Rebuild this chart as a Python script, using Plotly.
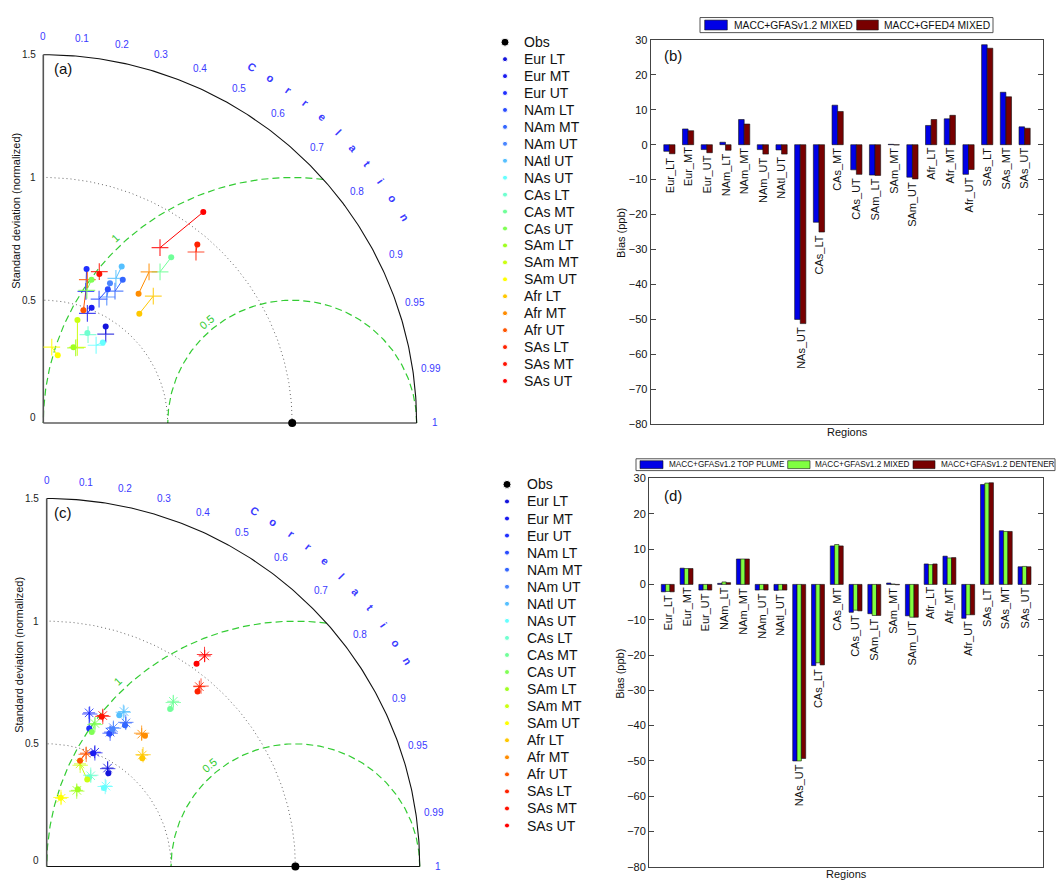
import numpy as np
import plotly.graph_objects as go

W, H = 1056, 884
FONT = "Liberation Sans, Arial, Helvetica, sans-serif"

# ---------------------------------------------------------------- data
regions = ["Eur LT", "Eur MT", "Eur UT", "NAm LT", "NAm MT", "NAm UT", "NAtl UT",
           "NAs UT", "CAs LT", "CAs MT", "CAs UT", "SAm LT", "SAm MT", "SAm UT",
           "Afr LT", "Afr MT", "Afr UT", "SAs LT", "SAs MT", "SAs UT"]
region_colors = ["#1414dc", "#1a1af0", "#2030ff", "#2a4cff", "#3366ff", "#4a86ff",
                 "#55c0ff", "#66ffff", "#70ffd0", "#70ff99", "#80ff55", "#a0ff20",
                 "#ccff10", "#ffff00", "#ffc800", "#ff8c00", "#ff5500", "#ff2200",
                 "#ff1100", "#ff0000"]

# Panel (a): normalized standard deviation and correlation
std_gfas_mixed_a = [0.466, 0.508, 0.651, 0.603, 0.665, 0.629, 0.711, 0.406, 0.407, 0.848,
                    0.615, 0.331, 0.441, 0.282, 0.589, 0.651, 0.487, 0.955, 0.647, 1.073]
cor_gfas_mixed_a = [0.538, 0.382, 0.267, 0.430, 0.480, 0.426, 0.443, 0.589, 0.435, 0.606,
                    0.315, 0.366, 0.311, 0.206, 0.655, 0.588, 0.331, 0.648, 0.348, 0.599]
std_gfed4_mixed_a = [0.440, 0.480, 0.563, 0.552, 0.609, 0.573, 0.657, 0.381, 0.402, 0.774,
                     0.568, 0.332, 0.337, 0.311, 0.680, 0.748, 0.610, 0.928, 0.656, 0.854]
cor_gfed4_mixed_a = [0.570, 0.369, 0.304, 0.406, 0.473, 0.445, 0.444, 0.557, 0.447, 0.606,
                     0.308, 0.391, 0.406, 0.109, 0.650, 0.568, 0.290, 0.661, 0.343, 0.549]

# Panel (c): injection-height experiments
std_top_c = [0.454, 0.498, 0.588, 0.597, 0.656, 0.619, 0.682, 0.394, 0.402, 0.811,
             0.577, 0.339, 0.390, 0.286, 0.585, 0.663, 0.451, 0.936, 0.649, 1.023]
cor_top_c = [0.546, 0.375, 0.291, 0.422, 0.480, 0.428, 0.428, 0.584, 0.425, 0.612,
             0.314, 0.369, 0.418, 0.196, 0.657, 0.596, 0.297, 0.648, 0.341, 0.589]
std_mixed_c = [0.470, 0.504, 0.649, 0.604, 0.666, 0.626, 0.704, 0.405, 0.410, 0.844,
               0.614, 0.333, 0.439, 0.284, 0.595, 0.661, 0.488, 0.956, 0.655, 1.068]
cor_mixed_c = [0.521, 0.383, 0.263, 0.422, 0.478, 0.428, 0.442, 0.588, 0.432, 0.603,
               0.316, 0.364, 0.305, 0.204, 0.646, 0.578, 0.324, 0.642, 0.344, 0.595]
std_dentener_c = [0.468, 0.502, 0.645, 0.600, 0.668, 0.624, 0.700, 0.402, 0.412, 0.840,
                  0.610, 0.330, 0.434, 0.287, 0.598, 0.664, 0.484, 0.962, 0.652, 1.072]
cor_dentener_c = [0.524, 0.386, 0.268, 0.425, 0.476, 0.430, 0.440, 0.585, 0.430, 0.606,
                  0.318, 0.366, 0.310, 0.200, 0.648, 0.575, 0.328, 0.645, 0.346, 0.592]

corr_ticks = [0, 0.1, 0.2, 0.3, 0.4, 0.5, 0.6, 0.7, 0.8, 0.9, 0.95, 0.99, 1]
corr_tick_text = ["0", "0.1", "0.2", "0.3", "0.4", "0.5", "0.6", "0.7", "0.8", "0.9",
                  "0.95", "0.99", "1"]
std_ticks = [0, 0.5, 1, 1.5]
std_tick_text = ["0", "0.5", "1", "1.5"]

# Bias bar charts (ppb)
bar_labels = ["Eur_LT", "Eur_MT", "Eur_UT", "NAm_LT", "NAm_MT", "NAm_UT", "NAtl_UT",
              "NAs_UT", "CAs_LT", "CAs_MT", "CAs_UT", "SAm_LT", "SAm_MT", "SAm_UT",
              "Afr_LT", "Afr_MT", "Afr_UT", "SAs_LT", "SAs_MT", "SAs_UT"]
bias_gfas_mixed_b = [-1.9, 4.5, -1.4, 0.7, 7.2, -1.4, -1.5, -50.0, -22.2, 11.3,
                     -7.2, -8.7, 0.1, -9.3, 5.5, 7.4, -8.5, 28.6, 15.0, 5.1]
bias_gfed4_mixed_b = [-2.6, 4.0, -2.3, -1.6, 5.9, -2.7, -2.7, -51.2, -25.0, 9.5,
                      -8.5, -8.8, -0.1, -9.8, 7.2, 8.4, -7.1, 27.6, 13.7, 4.7]
bias_top_d = [-2.1, 4.6, -1.6, 0.3, 7.2, -1.6, -1.7, -50.0, -23.0, 10.9,
              -7.9, -8.3, 0.4, -8.9, 5.8, 8.0, -9.6, 28.3, 15.2, 5.0]
bias_mixed_d = [-2.0, 4.5, -1.5, 0.7, 7.2, -1.5, -1.6, -50.0, -22.2, 11.3,
                -7.3, -8.8, 0.1, -9.3, 5.6, 7.5, -8.6, 28.7, 15.0, 5.1]
bias_dentener_d = [-2.1, 4.5, -1.6, 0.5, 7.2, -1.6, -1.6, -49.3, -22.8, 10.9,
                   -7.5, -8.8, -0.1, -9.3, 5.8, 7.6, -8.6, 28.8, 15.0, 5.0]

# ---------------------------------------------------------------- helpers
BLUE_TXT = "#3a3aff"
GREEN = "#33cc33"


def paper_x(p):
    return p / W


def paper_y(p):
    return 1 - p / H


def taylor_xy(std, cor):
    s = np.asarray(std, dtype=float)
    c = np.asarray(cor, dtype=float)
    return s * c, s * np.sqrt(1 - c ** 2)


def paper_text(txt, x, y, size, xanchor="center", yanchor="middle", angle=0, color="#111"):
    annotations.append(dict(x=paper_x(x), y=paper_y(y), xref="paper", yref="paper",
                            text=txt, showarrow=False, xanchor=xanchor, yanchor=yanchor,
                            textangle=angle, font=dict(size=size, color=color, family=FONT)))


fig = go.Figure()
annotations = []
shapes = []
layout_axes = {}


def add_taylor(xa, ya, ox, oy, k, box, label):
    l, t, r, b = box
    xname = "xaxis" + xa[1:]
    yname = "yaxis" + ya[1:]
    layout_axes[xname] = dict(domain=[l / W, r / W], range=[(l - ox) / k, (r - ox) / k],
                              visible=False, anchor=ya, fixedrange=True)
    layout_axes[yname] = dict(domain=[1 - b / H, 1 - t / H], range=[(oy - b) / k, (oy - t) / k],
                              visible=False, anchor=xa, fixedrange=True)

    def line(x, y, color, width, dash=None):
        fig.add_trace(go.Scatter(x=x, y=y, mode="lines", xaxis=xa, yaxis=ya,
                                 line=dict(color=color, width=width, dash=dash),
                                 hoverinfo="skip"))

    def text(txt, x, y, size, color, angle=0, xanchor="center", yanchor="middle"):
        annotations.append(dict(x=x, y=y, xref=xa, yref=ya, text=txt, showarrow=False,
                                textangle=angle, xanchor=xanchor, yanchor=yanchor,
                                font=dict(size=size, color=color, family=FONT)))

    th = np.linspace(0, np.pi / 2, 200)
    # standard deviation reference arcs
    for rad in [0.5, 1.0]:
        line(rad * np.cos(th), rad * np.sin(th), "#666666", 1, "1px,3px")
    # centred RMS difference arcs around the observation point
    th5 = np.linspace(0, np.pi, 200)
    line(1 + 0.5 * np.cos(th5), 0.5 * np.sin(th5), GREEN, 1.2, "7px,4px")
    th_start = np.arctan2(np.sqrt(1.5 ** 2 - 1.125 ** 2), 0.125)
    th1 = np.linspace(th_start, np.pi, 200)
    line(1 + np.cos(th1), np.sin(th1), GREEN, 1.2, "7px,4px")
    # frame
    line(1.5 * np.cos(th), 1.5 * np.sin(th), "#111111", 1.1)
    line([0, 1.5], [0, 0], "#111111", 1.1)
    line([0, 0], [0, 1.5], "#555555", 1.6)

    # correlation tick labels
    for c, txt in zip(corr_ticks, corr_tick_text):
        rr = 1.573
        text(txt, rr * c, rr * np.sqrt(1 - c ** 2), 10, BLUE_TXT)
    # "Correlation" written along the arc
    for i, ch in enumerate("Correlation"):
        ang = 60 - 3 * i
        rad = np.deg2rad(ang)
        text("<b>%s</b>" % ch, 1.675 * np.cos(rad), 1.675 * np.sin(rad), 11, BLUE_TXT,
             angle=90 - ang)
    # std tick labels
    for v, txt in zip(std_ticks, std_tick_text):
        text(txt, -0.022, v + (0.024 if v == 0 else 0), 10, "#222", xanchor="right")
    text("Standard deviation (normalized)", -0.111, 0.863, 11, "#111", angle=-90)
    # RMS arc labels
    text("1", 0.288, 0.754, 11, GREEN, angle=-43)
    text("0.5", 0.656, 0.412, 11, GREEN, angle=-40)
    text(label, (51.5 - ox) / k, 1.442, 15, "#111", xanchor="left")


add_taylor("x", "y", 43.3, 422.7, 248.9, (0, 14, 452, 442), "(a)")
add_taylor("x3", "y3", 46.7, 872.3, 248.7, (0, 460, 452, 884), "(c)")

# ---- Taylor panel (a) points
xg, yg = taylor_xy(std_gfas_mixed_a, cor_gfas_mixed_a)
xe, ye = taylor_xy(std_gfed4_mixed_a, cor_gfed4_mixed_a)
for i in range(len(regions)):
    fig.add_trace(go.Scatter(x=[xg[i], xe[i]], y=[yg[i], ye[i]], mode="lines",
                             xaxis="x", yaxis="y", hoverinfo="skip",
                             line=dict(color=region_colors[i], width=1)))
fig.add_trace(go.Scatter(x=xe, y=ye, mode="markers", xaxis="x", yaxis="y",
                         marker=dict(symbol="cross-thin-open", size=12, color=region_colors,
                                     opacity=0.8, line=dict(width=1.2, color=region_colors))))
fig.add_trace(go.Scatter(x=xg, y=yg, mode="markers", xaxis="x", yaxis="y",
                         marker=dict(symbol="circle", size=6, opacity=1, color=region_colors)))

# ---- Taylor panel (c) points
xt, yt = taylor_xy(std_top_c, cor_top_c)
xm, ym = taylor_xy(std_mixed_c, cor_mixed_c)
xd, yd = taylor_xy(std_dentener_c, cor_dentener_c)
for i in range(len(regions)):
    fig.add_trace(go.Scatter(x=[xt[i], xm[i], xd[i]], y=[yt[i], ym[i], yd[i]], mode="lines",
                             xaxis="x3", yaxis="y3", hoverinfo="skip",
                             line=dict(color=region_colors[i], width=1)))
fig.add_trace(go.Scatter(x=xd, y=yd, mode="markers", xaxis="x3", yaxis="y3",
                         marker=dict(symbol="cross-thin-open", size=11, color=region_colors,
                                     opacity=0.75, line=dict(width=1.0, color=region_colors))))
fig.add_trace(go.Scatter(x=xm, y=ym, mode="markers", xaxis="x3", yaxis="y3",
                         marker=dict(symbol="asterisk-open", size=10, color=region_colors,
                                     opacity=0.85, line=dict(width=1.0, color=region_colors))))
fig.add_trace(go.Scatter(x=xt, y=yt, mode="markers", xaxis="x3", yaxis="y3",
                         marker=dict(symbol="circle", size=6, opacity=1, color=region_colors)))

# observation point
for xa, ya in [("x", "y"), ("x3", "y3")]:
    fig.add_trace(go.Scatter(x=[1], y=[0], mode="markers", xaxis=xa, yaxis=ya, cliponaxis=False,
                             marker=dict(symbol="circle", size=8, opacity=1, color="black")))

# ---- Legends for the Taylor panels (pixel-space overlay axis)
layout_axes["xaxis5"] = dict(domain=[0, 1], range=[0, W], visible=False, anchor="y5",
                             fixedrange=True)
layout_axes["yaxis5"] = dict(domain=[0, 1], range=[H, 0], visible=False, anchor="x5",
                             fixedrange=True)
legend_names = ["Obs"] + regions
legend_colors = ["black"] + region_colors
for mx, tx, y0, dy in [(505, 522, 36.7, 17.17), (507, 525, 485.0, 17.29)]:
    ys = [y0 + j * dy for j in range(len(legend_names))]
    fig.add_trace(go.Scatter(x=[mx] * len(ys), y=ys, mode="markers", xaxis="x5", yaxis="y5",
                             marker=dict(size=[8] + [5] * len(regions), opacity=1,
                                         color=legend_colors)))
    for name, yy in zip(legend_names, ys):
        paper_text(name, tx, yy, 14, xanchor="left")

# ---------------------------------------------------------------- bar charts
xpos = list(range(1, len(bar_labels) + 1))


def bar_axes(xa, ya, box):
    l, t, r, b = box
    xname = "xaxis" + xa[1:]
    yname = "yaxis" + ya[1:]
    layout_axes[xname] = dict(domain=[l / W, r / W], range=[0, 21], anchor=ya,
                              showline=True, mirror=True, linecolor="#444", linewidth=1,
                              ticks="", showticklabels=False, showgrid=False,
                              zeroline=False, fixedrange=True)
    layout_axes[yname] = dict(domain=[1 - b / H, 1 - t / H], range=[-80, 30], anchor=xa,
                              tickvals=list(range(-80, 31, 10)), ticks="inside", ticklen=5,
                              tickcolor="#444", mirror="ticks", showline=True,
                              linecolor="#444", linewidth=1, showgrid=False, zeroline=False,
                              tickfont=dict(size=11, color="#111", family=FONT),
                              fixedrange=True)


bar_axes("x2", "y2", (650.7, 34.3, 1043.3, 424.0))
bar_axes("x4", "y4", (649.0, 479.0, 1043.3, 872.7))

bar_edge = dict(color="#111", width=0.6)
for vals, col, off, wid in [(bias_gfas_mixed_b, "#0000e6", -0.3, 0.3),
                            (bias_gfed4_mixed_b, "#780000", 0.0, 0.3)]:
    fig.add_trace(go.Bar(x=xpos, y=vals, width=wid, offset=off, xaxis="x2", yaxis="y2",
                         marker=dict(color=col, line=bar_edge)))
for vals, col, off, wid in [(bias_top_d, "#0000e6", -0.345, 0.23),
                            (bias_mixed_d, "#80ff40", -0.115, 0.23),
                            (bias_dentener_d, "#780000", 0.115, 0.23)]:
    fig.add_trace(go.Bar(x=xpos, y=vals, width=wid, offset=off, xaxis="x4", yaxis="y4",
                         marker=dict(color=col, line=bar_edge)))

# category labels hanging below each group
for xa, ya, series in [("x2", "y2", [bias_gfas_mixed_b, bias_gfed4_mixed_b]),
                       ("x4", "y4", [bias_top_d, bias_mixed_d, bias_dentener_d])]:
    for j, lab in enumerate(bar_labels):
        low = min(0.0, min(s[j] for s in series))
        annotations.append(dict(x=xpos[j], y=low, xref=xa, yref=ya, text=lab,
                                showarrow=False, textangle=-90, yanchor="top",
                                xanchor="center", yshift=-1,
                                font=dict(size=11, color="#111", family=FONT)))

# axis titles and panel labels
paper_text("Bias (ppb)", 621, 230, 11, angle=-90)
paper_text("Regions", 847, 432, 11)
paper_text("Bias (ppb)", 619.3, 676.7, 11, angle=-90)
paper_text("Regions", 846, 880, 11)
paper_text("(b)", 672.5, 50, 15)
paper_text("(d)", 672.5, 496.7, 15)


# bar legends
def rect(x0, y0, x1, y1, fill, lc="#111", lw=0.6):
    shapes.append(dict(type="rect", xref="paper", yref="paper",
                       x0=paper_x(x0), x1=paper_x(x1), y0=paper_y(y1), y1=paper_y(y0),
                       fillcolor=fill, line=dict(color=lc, width=lw), layer="above"))


rect(700, 11.7, 993, 27, "white", "#555", 1)
for (sx0, sx1, tx, col, txt) in [(704.7, 727.3, 732, "#0000e6", "MACC+GFASv1.2 MIXED"),
                                 (856.7, 878.3, 882, "#780000", "MACC+GFED4 MIXED")]:
    rect(sx0, 14.3, sx1, 24.3, col)
    paper_text(txt, tx, 19.4, 10.3, xanchor="left")

rect(636, 459, 1055, 471, "white", "#555", 1)
for (sx0, sx1, tx, col, txt) in [(640, 663, 667, "#0000e6", "MACC+GFASv1.2 TOP PLUME"),
                                 (787.7, 810, 813, "#80ff40", "MACC+GFASv1.2 MIXED"),
                                 (913, 935, 939, "#780000", "MACC+GFASv1.2 DENTENER")]:
    rect(sx0, 461, sx1, 469, col)
    paper_text(txt, tx, 465.2, 8.2, xanchor="left")

fig.update_layout(width=W, height=H, margin=dict(l=0, r=0, t=0, b=0, pad=0),
                  paper_bgcolor="white", plot_bgcolor="rgba(0,0,0,0)", showlegend=False,
                  barmode="overlay", annotations=annotations, shapes=shapes,
                  font=dict(family=FONT), hovermode=False, **layout_axes)

fig.write_html("out.html")
